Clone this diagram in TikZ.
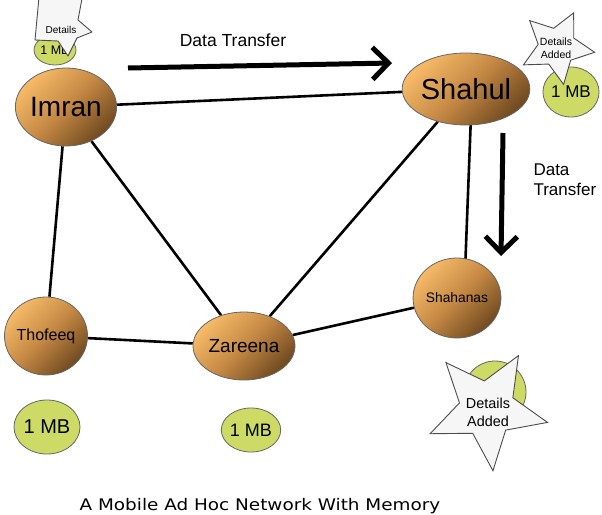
\documentclass[tikz,border=0pt]{standalone}
\usepackage{fontspec}
\usepackage{graphicx}
\setmainfont{Liberation Sans}
\newfontfamily\capfont{DejaVu Sans}
\usetikzlibrary{shapes.geometric,arrows.meta}
\definecolor{nodeL}{RGB}{246,186,104}
\definecolor{nodeM}{RGB}{196,136,68}
\definecolor{nodeD}{RGB}{112,74,32}
\definecolor{memG}{RGB}{205,218,102}
\definecolor{starF}{RGB}{246,246,246}
\pgfdeclarelayer{bg}
\pgfsetlayers{bg,main}
\tikzset{
  person/.style={ellipse, draw=black!60, line width=0.8pt, top color=nodeL, bottom color=nodeD, middle color=nodeM, shading angle=45, inner sep=0pt},
  mem/.style={ellipse, draw=black!60, line width=0.8pt, fill=memG, inner sep=0pt},
  starshape/.style={star, star points=5, draw=black!70, line width=0.9pt, fill=starF, inner sep=0pt},
  starpath/.style={draw=black!70, line width=0.9pt, fill=starF, line join=round},
  link/.style={line width=2.6pt},
  flow/.style={line width=5pt, -{Straight Barb[length=16pt,width=32pt]}},
}
\begin{document}
\begin{tikzpicture}[x=1pt,y=-1pt]
\useasboundingbox (0,0) rectangle (602,514);
\clip (0,0) rectangle (602,514);
% persons
\node[person, minimum width=92pt, minimum height=78pt, font=\fontsize{28}{30}\selectfont] (imran) at (66,107) {Imran};
\node[person, minimum width=108pt, minimum height=72pt, font=\fontsize{29}{31}\selectfont] (shahul) at (466,89) {Shahul};
\node[person, minimum width=82pt, minimum height=78pt, font=\fontsize{16}{18}\selectfont] (thofeeq) at (46,336) {Thofeeq};
\node[person, minimum width=102pt, minimum height=68pt, font=\fontsize{19}{21}\selectfont] (zareena) at (244,346) {Zareena};
\node[person, minimum width=72pt, minimum height=80pt, font=\fontsize{13.8}{15}\selectfont] (shahanas) at (457,298) {Shahanas};
% memory
\node[mem, minimum width=42pt, minimum height=30pt, font=\fontsize{12.5}{15}\selectfont] (m1) at (55,50) {1 MB};
\node[mem, minimum width=56pt, minimum height=50pt, font=\fontsize{17}{19}\selectfont] (m2) at (571,92) {1 MB};
\node[mem, minimum width=62pt, minimum height=54pt, font=\fontsize{20}{22}\selectfont] (m3) at (47,427) {1 MB};
\node[mem, minimum width=54pt, minimum height=44pt, font=\fontsize{18}{20}\selectfont] (m4) at (251,430) {1 MB};
\node[mem, minimum width=62pt, minimum height=62pt] (m5) at (495,392) {};
% stars
\coordinate (s1) at (62,20);
\draw[starpath] (35,40) -- (58,41) -- (68,56) -- (77,38) -- (92,32) -- (78,20) -- (84,-12) -- (60,-2) -- (40,-14) -- (38,8) -- cycle;
\node[font=\fontsize{10}{12}\selectfont] (s1t) at (61,29.5) {Details};
\node[starshape, star point ratio=2.0, minimum size=76pt, rotate=-26] (s2) at (557,47) {};
\node[font=\fontsize{10.5}{13}\selectfont, align=center] (s2t) at (556,48) {Details\\Added};
\node[starshape, star point ratio=2.2, minimum size=124pt, rotate=-30.5] (s3) at (487,409) {};
\node[font=\fontsize{14.4}{18}\selectfont, align=center] (s3t) at (488,412) {Details\\Added};
% links
\begin{pgfonlayer}{bg}
\draw[link] (imran) -- (shahul);
\draw[link] (imran) -- (thofeeq);
\draw[link] (imran) -- (zareena);
\draw[link] (shahul) -- (zareena);
\draw[link] ([xshift=6pt]shahul.center) -- ([xshift=7pt]shahanas.center);
\draw[link] (thofeeq) -- (zareena);
\draw[link] (zareena) -- (shahanas);
\end{pgfonlayer}
% data transfer arrows
\coordinate (a1s) at (128,68);
\coordinate (a1e) at (392,63);
\draw[flow] (a1s) -- (a1e);
\coordinate (a2s) at (503,133);
\coordinate (a2e) at (501,256);
\draw[flow] (a2s) -- (a2e);
\node[font=\fontsize{17.5}{20}\selectfont] (dt1) at (233,40) {Data Transfer};
\node[font=\fontsize{17}{20}\selectfont, align=left, anchor=west] (dt2) at (530,180) {Data\\Transfer};
% caption
\node[font=\capfont\fontsize{16}{18}\selectfont, anchor=base, inner sep=0pt] (cap) at (260,510) {\scalebox{1.15}[1]{A Mobile Ad Hoc Network With Memory}};
\end{tikzpicture}
\end{document}
